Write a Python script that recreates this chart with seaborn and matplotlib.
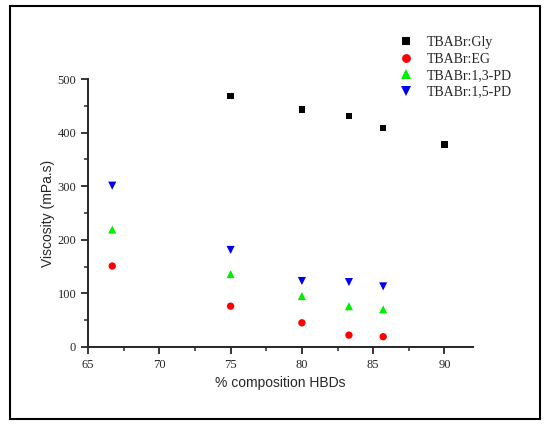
import pandas as pd
import matplotlib.pyplot as plt
import seaborn as sns
from matplotlib.patches import Rectangle
from matplotlib.ticker import MultipleLocator

sns.set_style("ticks")

series = ['TBABr:Gly', 'TBABr:EG', 'TBABr:1,3-PD', 'TBABr:1,5-PD']
x_gly = [75.0, 80.0, 83.3, 85.7, 90.0]
y_gly = [468, 443, 431, 408, 378]
x_other = [66.7, 75.0, 80.0, 83.3, 85.7]
y_eg = [151, 76, 45, 22, 19]
y_13pd = [219, 136, 95, 76, 70]
y_15pd = [301, 181, 123, 121, 113]

df = pd.concat([
    pd.DataFrame({'x': x_gly, 'y': y_gly, 'grupo': series[0]}),
    pd.DataFrame({'x': x_other, 'y': y_eg, 'grupo': series[1]}),
    pd.DataFrame({'x': x_other, 'y': y_13pd, 'grupo': series[2]}),
    pd.DataFrame({'x': x_other, 'y': y_15pd, 'grupo': series[3]}),
])

cores = dict(zip(series, ['#000000', '#ff0000', '#00ee00', '#0000ee']))
marcadores = dict(zip(series, ['s', 'o', '^', 'v']))
tamanhos = dict(zip(series, [20, 28, 34, 34]))

fig = plt.figure(figsize=(5.5, 4.32), dpi=100)
ax = fig.add_axes([0.16, 0.197, 0.70, 0.62])

sns.scatterplot(data=df, x='x', y='y', hue='grupo', style='grupo', size='grupo',
                palette=cores, markers=marcadores, sizes=tamanhos,
                linewidth=0, ax=ax)

ax.set_xlim(65, 92)
ax.set_ylim(0, 500)
ax.set_xticks([65, 70, 75, 80, 85, 90])
ax.xaxis.set_minor_locator(MultipleLocator(2.5))
ax.yaxis.set_major_locator(MultipleLocator(100))
ax.yaxis.set_minor_locator(MultipleLocator(50))
sns.despine(ax=ax)
for lado in ['left', 'bottom']:
    ax.spines[lado].set_linewidth(1.4)
ax.tick_params(which='major', length=5, width=1.3, direction='out')
ax.tick_params(which='minor', length=3, width=1.1, direction='out')
for lbl in ax.get_xticklabels() + ax.get_yticklabels():
    lbl.set_fontfamily('Liberation Serif')
    lbl.set_fontsize(9)
ax.set_xlabel('% composition HBDs', fontfamily='Liberation Sans', fontsize=10)
ax.set_ylabel('Viscosity (mPa.s)', fontfamily='Liberation Sans', fontsize=10, labelpad=2)

handles, labels = ax.get_legend_handles_labels()
ax.legend(handles, labels, loc='upper left', bbox_to_anchor=(0.69, 0.945),
          bbox_transform=fig.transFigure, frameon=False,
          prop={'family': 'Liberation Serif', 'size': 10},
          handletextpad=0.5, labelspacing=0.25, markerscale=1.2)

fig.patches.append(Rectangle((0.018, 0.030), 0.964, 0.956, transform=fig.transFigure,
                             fill=False, edgecolor='black', linewidth=1.5))

plt.savefig("out.png", dpi=100)
plt.close()
